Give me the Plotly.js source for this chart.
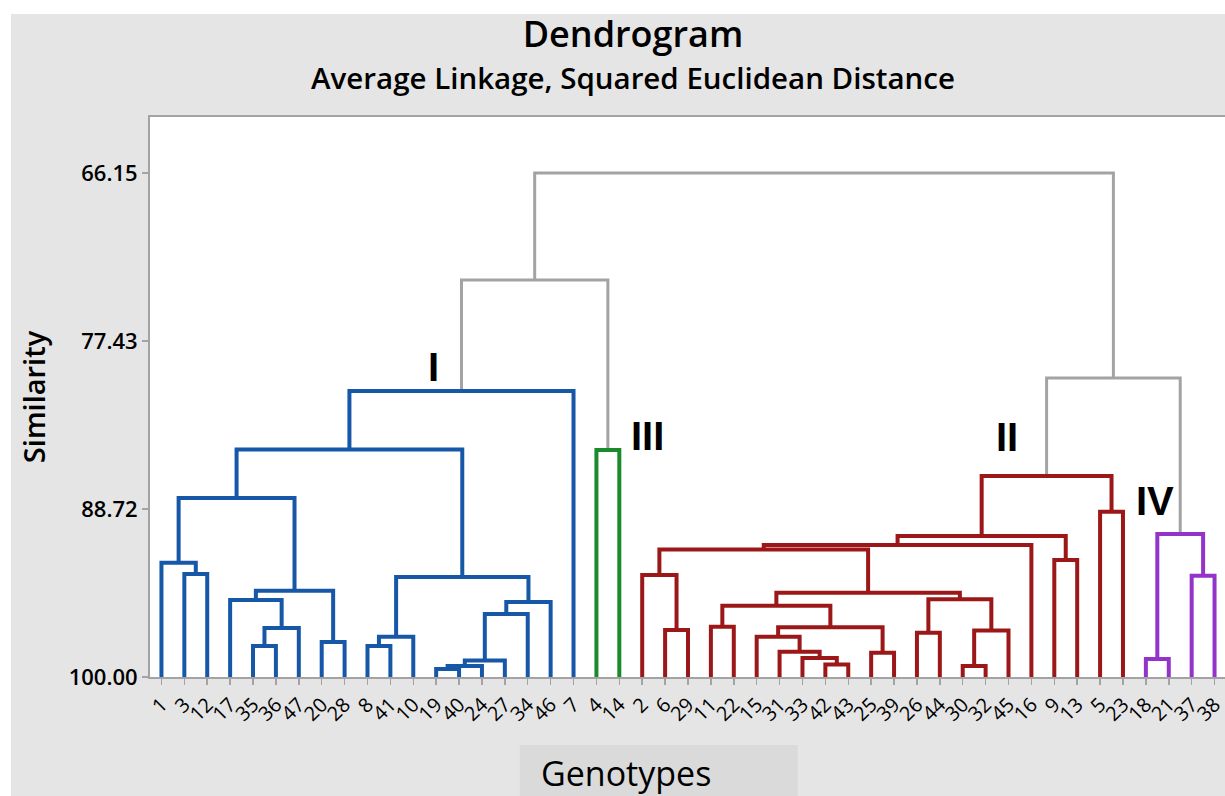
<!DOCTYPE html>
<html>
<head>
<meta charset="utf-8">
<script src="https://cdn.plot.ly/plotly-3.0.1.min.js"></script>
<style>
html, body { margin:0; padding:0; background:#ffffff; overflow:hidden; width:1225px; height:796px; }
#chart { position:absolute; left:0; top:0; width:1251px; height:796px; }
.edge { position:absolute; background:#ffffff; z-index:5; }
#edgeTop { left:0; top:0; width:1225px; height:14px; }
#edgeLeft { left:0; top:0; width:11px; height:796px; }
</style>
</head>
<body>
<div id="chart"></div>
<div class="edge" id="edgeTop"></div>
<div class="edge" id="edgeLeft"></div>
<script>
// Leaf order (genotypes) along the x axis
const leafLabels = ['1','3','12','17','35','36','47','20','28','8','41','10','19','40','24','27','34','46','7',
  '4','14','2','6','29','11','22','15','31','33','42','43','25','39','26','44','30','32','45','16','9','13','5','23',
  '18','21','37','38'];

// Linkage: node ids 0..46 are leaves (in plotted order); merge k creates node 47+k
const mergeA = [1,0,4,49,3,7,51,48,9,55,12,57,58,59,60,56,54,63,19,64,
  22,21,24,29,28,27,26,31,73,69,33,35,78,77,76,68,82,39,83,41,85,43,45,88,87,66];
const mergeB = [2,47,5,6,50,8,52,53,10,11,13,14,15,16,17,61,62,18,20,65,
  23,67,25,30,70,71,72,32,74,75,34,36,37,79,80,81,38,40,84,42,86,44,46,89,90,91];
const mergeSim = [93.08,92.32,97.92,96.71,94.83,97.65,94.20,87.98,97.92,97.29,99.46,99.26,98.90,95.77,94.96,93.28,84.72,80.79,84.75,73.34,
  96.84,93.15,96.62,99.16,98.72,98.30,97.29,98.37,96.66,95.21,97.02,99.26,96.88,94.78,94.34,91.44,91.13,92.14,90.53,88.90,86.50,
  98.79,93.20,90.39,79.92,66.15];
const mergeGroup = ['I','I','I','I','I','I','I','I','I','I','I','I','I','I','I','I','I','I','III','link',
  'II','II','II','II','II','II','II','II','II','II','II','II','II','II','II','II','II','II','II','II','II',
  'IV','IV','IV','link','link'];

// Cluster labels
const clusterNames = ['I','III','II','IV'];
const clusterLabelX = [11.9, 21.25, 36.95, 43.4];
const clusterLabelY = [79.2, 83.8, 83.85, 88.2];

const yTickVals = [66.15, 77.43, 88.72, 100.00];
const yTickText = ['66.15','77.43','88.72','100.00'];

const groupColors = {I:'#1757a8', III:'#1a8a2a', II:'#9c1818', IV:'#9433c9', link:'#a3a3a3'};
const groupWidth = {I:4, III:4, II:4, IV:4, link:3};

const nLeaf = leafLabels.length;
const nodeX = [], nodeY = [];
for (let i = 0; i < nLeaf; i++) { nodeX.push(i); nodeY.push(100); }
const segs = {I:{x:[],y:[]}, III:{x:[],y:[]}, II:{x:[],y:[]}, IV:{x:[],y:[]}, link:{x:[],y:[]}};
for (let k = 0; k < mergeA.length; k++) {
  const a = mergeA[k], b = mergeB[k], h = mergeSim[k];
  const s = segs[mergeGroup[k]];
  s.x.push(nodeX[a], nodeX[a], nodeX[b], nodeX[b], null);
  s.y.push(nodeY[a], h, h, nodeY[b], null);
  nodeX.push((nodeX[a] + nodeX[b]) / 2);
  nodeY.push(h);
}

const traces = ['link','I','III','II','IV'].map(g => ({
  type:'scatter', mode:'lines', x:segs[g].x, y:segs[g].y,
  line:{color:groupColors[g], width:groupWidth[g], shape:'linear'},
  hoverinfo:'skip', showlegend:false, connectgaps:false
}));

const FONT = '"Open Sans", "Noto Sans", sans-serif';
const annotations = clusterNames.map((t, i) => ({
  text:t, x:clusterLabelX[i], y:clusterLabelY[i], xref:'x', yref:'y',
  showarrow:false, xanchor:'center', yanchor:'middle',
  font:{family:'"Liberation Sans", Arial, sans-serif', size:40, color:'#000', weight:700}
}));
// x-axis caption placed inside its grey box
annotations.push({
  text:'Genotypes', xref:'paper', yref:'paper', x:(615 - 139) / 1076.4, y:(677 - 773) / 560, xanchor:'center', yanchor:'middle',
  showarrow:false, font:{family:FONT, size:34, color:'#000'}
});

const layout = {
  width:1251, height:796,
  paper_bgcolor:'#e5e5e5', plot_bgcolor:'#ffffff',
  margin:{l:150, r:24.6, t:117, b:119},
  title:{
    text:'<span style="font-size:36px">Dendrogram</span><br><span style="font-size:29.5px">Average Linkage, Squared Euclidean Distance</span>',
    x:633/1251, xref:'container', xanchor:'center',
    y:1 - 46.5/796, yref:'container', yanchor:'middle',
    font:{family:FONT, size:33, color:'#000', weight:600}
  },
  xaxis:{
    range:[-0.5, 46.5], tickmode:'array', tickvals:leafLabels.map((_, i) => i), ticktext:leafLabels,
    tickangle:-45, ticks:'outside', ticklen:6, tickcolor:'#a3a3a3', tickwidth:1.5,
    tickfont:{family:FONT, size:20, color:'#000'},
    showline:true, linecolor:'#a3a3a3', linewidth:2, mirror:true,
    showgrid:false, zeroline:false, fixedrange:true
  },
  yaxis:{
    range:[100, 62.39], tickmode:'array', tickvals:yTickVals, ticktext:yTickText,
    ticks:'outside', ticklen:6, tickcolor:'#a3a3a3', tickwidth:1.5,
    tickfont:{family:FONT, size:22, color:'#000', weight:600},
    title:{text:'Similarity', font:{family:FONT, size:29, color:'#000', weight:600}, standoff:15},
    showline:true, linecolor:'#a3a3a3', linewidth:2, mirror:true,
    showgrid:false, zeroline:false, fixedrange:true
  },
  shapes:[{
    type:'rect', xref:'paper', yref:'paper', layer:'below',
    x0:(509 - 139) / 1076.4, x1:(787 - 139) / 1076.4, y0:(663 - 731) / 560, y1:-0.26,
    fillcolor:'#dadada', line:{width:0}
  }],
  annotations:annotations,
  showlegend:false
};

Plotly.newPlot('chart', traces, layout, {displayModeBar:false, staticPlot:true});
</script>
</body>
</html>
